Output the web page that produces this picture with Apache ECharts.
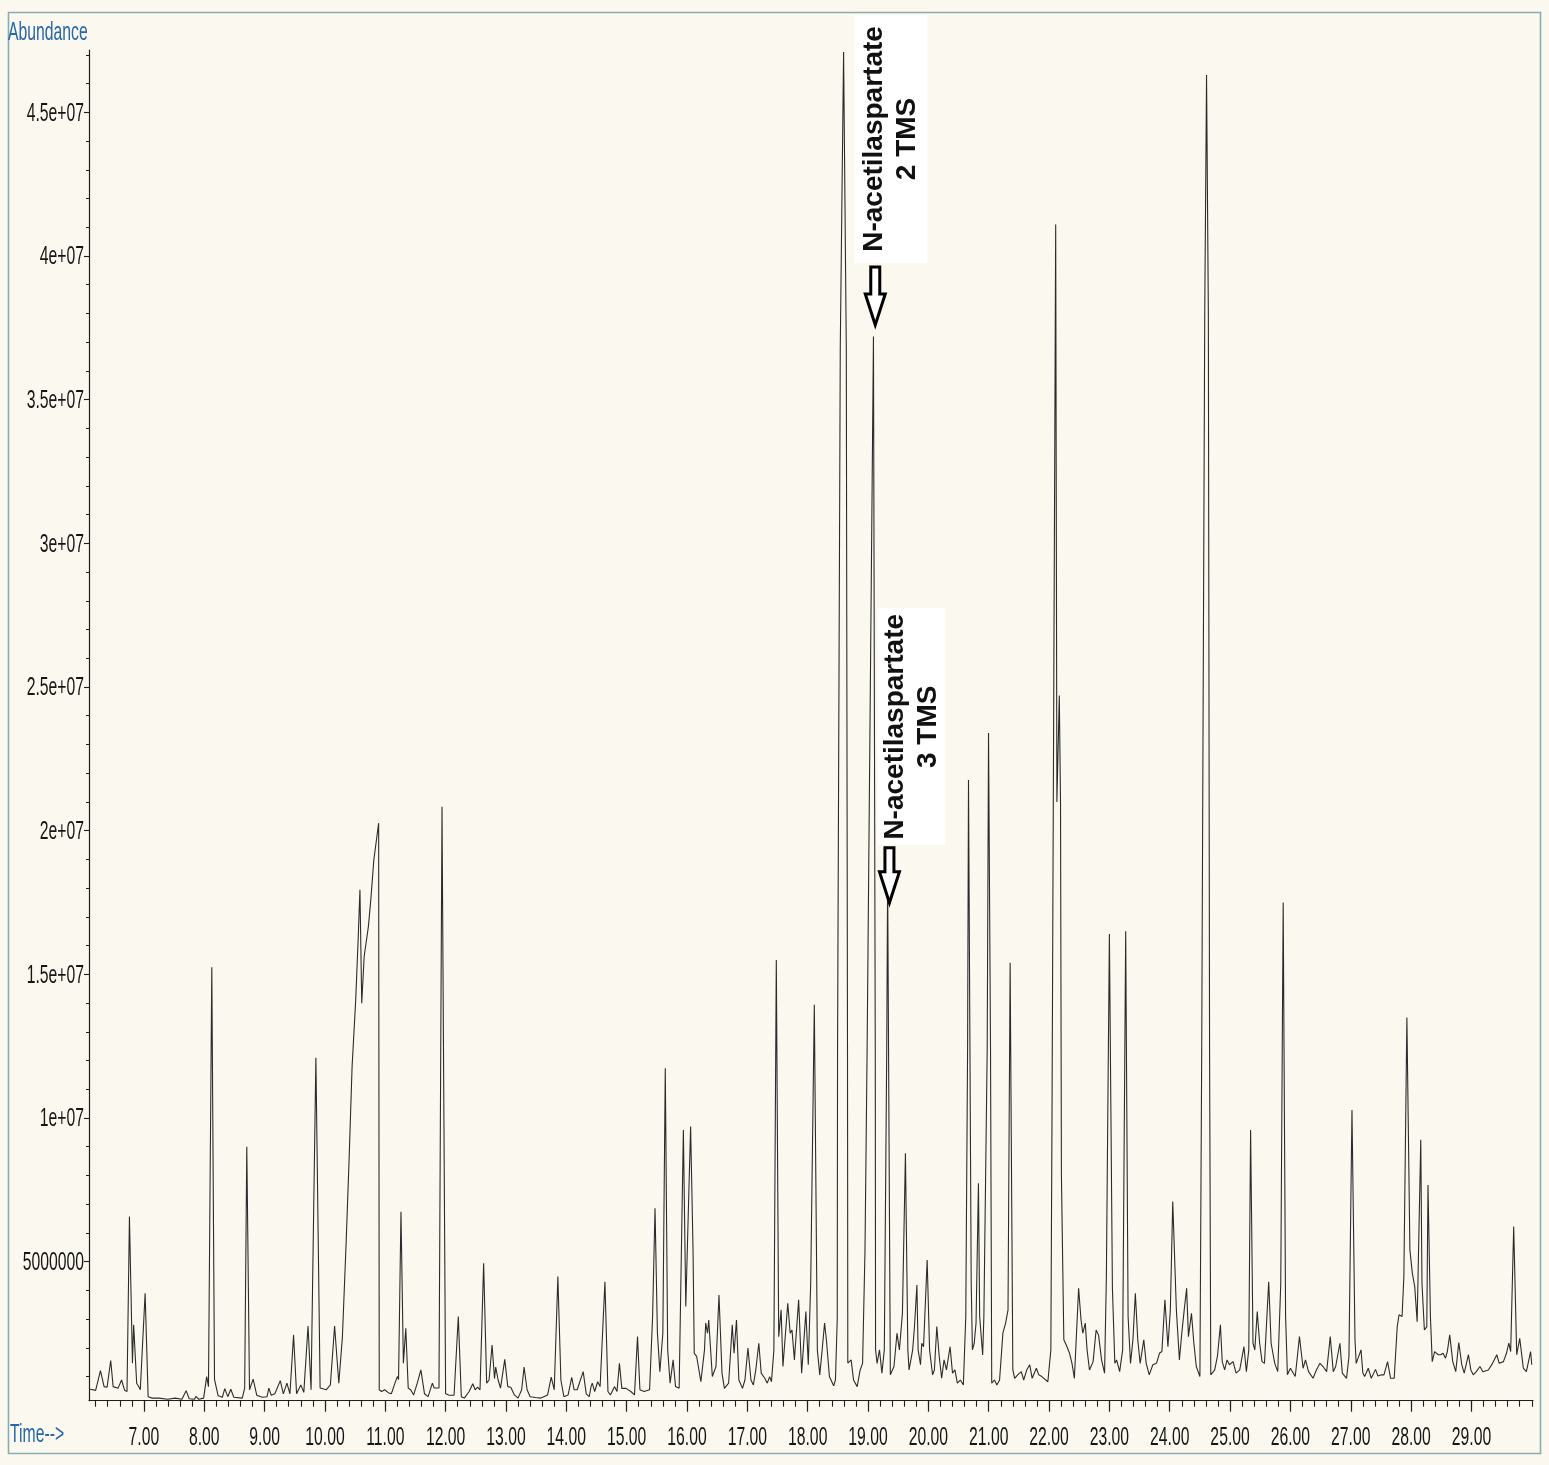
<!DOCTYPE html>
<html>
<head>
<meta charset="utf-8">
<script src="https://cdn.jsdelivr.net/npm/echarts@6/dist/echarts.min.js"></script>
<style>
html,body{margin:0;padding:0;background:#fbf9ef;}
#chart{width:1549px;height:1465px;}
</style>
</head>
<body>
<div id="chart"></div>
<script>
// ---- DATA: total ion chromatogram, [retention time (min), abundance (millions)] ----
const trace_06_10 = [[6.11,0.56],[6.20,0.52],[6.28,1.21],[6.34,0.65],[6.39,0.63],[6.45,1.56],[6.49,0.65],[6.57,0.59],[6.63,0.88],[6.68,0.52],[6.72,0.48],[6.76,6.57],[6.81,1.46],[6.83,2.80],[6.88,0.77],[6.92,0.63],[6.94,0.54],[7.02,3.90],[7.07,0.30],[7.14,0.25],[7.25,0.25],[7.39,0.21],[7.52,0.25],[7.55,0.29],[7.63,0.21],[7.70,0.51],[7.75,0.23],[7.84,0.21],[7.86,0.31],[7.91,0.21],[7.99,0.25],[8.04,1.00],[8.07,0.65],[8.125,15.25],[8.17,0.90],[8.23,0.33],[8.30,0.28],[8.34,0.58],[8.39,0.30],[8.44,0.56],[8.49,0.28],[8.63,0.25],[8.67,0.60],[8.705,9.00],[8.75,0.54],[8.81,0.91],[8.87,0.35],[8.96,0.28],[9.04,0.30],[9.07,0.60],[9.11,0.35],[9.17,0.40],[9.26,0.86],[9.31,0.40],[9.37,0.77],[9.42,0.40],[9.48,2.45],[9.53,0.40],[9.60,0.71],[9.65,0.45],[9.72,2.76],[9.77,0.54],[9.85,12.10],[9.92,0.60],[10.02,0.54],[10.09,0.71],[10.16,2.76],[10.23,0.77]];
const trace_10_14 = [[10.29,2.40],[10.35,5.60],[10.40,8.54],[10.45,11.79],[10.51,14.11],[10.55,16.20],[10.58,17.94],[10.61,13.99],[10.65,15.62],[10.72,16.66],[10.76,17.59],[10.81,18.98],[10.89,20.26],[10.90,0.54],[10.94,0.48],[10.99,0.54],[11.05,0.44],[11.10,0.40],[11.16,0.77],[11.20,1.00],[11.22,0.90],[11.26,6.74],[11.30,1.46],[11.34,2.68],[11.38,0.60],[11.42,0.54],[11.47,0.36],[11.53,0.77],[11.59,1.23],[11.65,0.40],[11.71,0.30],[11.78,0.77],[11.81,0.60],[11.84,0.65],[11.89,0.60],[11.94,20.83],[12.00,0.40],[12.06,0.35],[12.14,0.35],[12.21,3.09],[12.26,0.30],[12.31,0.25],[12.39,0.48],[12.45,0.75],[12.49,0.54],[12.53,0.63],[12.57,0.54],[12.63,4.94],[12.68,0.77],[12.72,0.88],[12.77,2.10],[12.81,0.93],[12.83,1.33],[12.87,0.88],[12.91,0.60],[12.98,1.60],[13.03,0.65],[13.08,0.63],[13.14,0.36],[13.20,0.25],[13.26,0.54],[13.30,1.33],[13.35,0.54],[13.40,0.30],[13.49,0.27],[13.58,0.25],[13.69,0.36],[13.75,0.98],[13.80,0.54],[13.86,4.48],[13.91,0.88],[13.96,0.30],[14.03,0.36],[14.09,0.97],[14.13,0.54],[14.18,0.54],[14.28,1.17],[14.33,0.40],[14.38,0.30],[14.41,0.65]];
const trace_14_18 = [[14.43,0.77],[14.47,0.48],[14.52,0.82],[14.56,0.65],[14.64,4.30],[14.69,0.48],[14.73,0.36],[14.80,0.65],[14.84,0.48],[14.88,1.46],[14.92,0.59],[14.99,0.59],[15.07,0.48],[15.13,0.36],[15.18,2.39],[15.22,0.54],[15.29,0.48],[15.38,0.54],[15.43,3.09],[15.47,6.86],[15.51,2.51],[15.55,1.17],[15.60,2.51],[15.64,11.73],[15.68,1.93],[15.72,0.77],[15.77,1.58],[15.81,0.65],[15.87,0.59],[15.94,9.58],[15.98,3.44],[16.02,6.57],[16.06,9.70],[16.10,5.41],[16.12,1.81],[16.16,1.70],[16.23,0.82],[16.29,1.93],[16.31,2.86],[16.34,2.51],[16.36,2.97],[16.42,1.00],[16.48,1.35],[16.53,3.84],[16.58,1.12],[16.62,0.59],[16.69,0.77],[16.75,2.80],[16.78,1.81],[16.82,2.97],[16.86,0.88],[16.92,0.59],[16.96,0.88],[17.01,1.99],[17.06,0.88],[17.10,0.71],[17.14,1.23],[17.19,2.16],[17.23,1.12],[17.29,0.94],[17.33,0.77],[17.37,1.00],[17.40,0.82],[17.44,1.93],[17.48,15.50],[17.52,2.39],[17.56,3.32],[17.59,1.35],[17.61,1.29],[17.67,3.55],[17.71,2.51],[17.74,2.62],[17.78,1.58],[17.85,3.67],[17.90,1.12],[17.93,1.17],[17.97,3.26],[18.01,1.41],[18.05,4.25],[18.11,13.94],[18.16,1.93],[18.20,1.06],[18.24,1.93],[18.28,2.86],[18.31,2.28],[18.36,1.00],[18.43,0.68],[18.46,0.88]];
const trace_18_22 = [[18.49,3.00],[18.495,12.40],[18.54,36.80],[18.595,47.10],[18.64,36.80],[18.66,12.40],[18.665,1.47],[18.72,1.58],[18.76,0.88],[18.82,0.65],[18.87,1.23],[18.91,1.46],[18.95,5.41],[18.985,12.40],[19.09,37.20],[19.12,12.40],[19.125,1.93],[19.15,1.46],[19.19,1.93],[19.23,1.12],[19.27,1.93],[19.31,12.40],[19.325,18.35],[19.34,12.40],[19.37,1.06],[19.43,1.35],[19.48,2.51],[19.52,1.93],[19.57,3.20],[19.62,8.77],[19.66,1.93],[19.68,1.23],[19.74,1.93],[19.77,2.74],[19.81,4.19],[19.83,1.93],[19.87,1.41],[19.89,2.16],[19.92,2.04],[19.98,5.06],[20.02,1.93],[20.07,1.06],[20.10,1.23],[20.14,2.74],[20.18,1.70],[20.22,0.94],[20.26,1.58],[20.30,1.23],[20.36,2.04],[20.40,1.12],[20.44,1.23],[20.48,0.77],[20.53,0.88],[20.58,0.71],[20.62,3.09],[20.65,12.40],[20.665,21.76],[20.71,4.25],[20.73,1.93],[20.76,2.16],[20.79,2.86],[20.83,7.73],[20.85,3.09],[20.90,1.75],[20.92,3.09],[20.975,12.40],[20.997,23.40],[21.03,12.40],[21.05,0.77],[21.095,0.88],[21.135,0.71],[21.18,0.88],[21.235,2.51],[21.28,2.86],[21.32,3.32],[21.355,15.40],[21.40,1.23],[21.43,0.94],[21.48,1.06],[21.54,1.17],[21.58,0.88],[21.63,1.23],[21.68,1.41],[21.72,0.94],[21.79,1.29],[21.83,1.06],[21.88,1.00],[21.98,0.82]];
const trace_22_26 = [[22.03,1.93],[22.05,10.60],[22.11,41.10],[22.13,21.00],[22.17,24.70],[22.19,21.00],[22.205,8.00],[22.245,2.28],[22.285,2.10],[22.34,1.81],[22.38,1.46],[22.42,0.94],[22.49,4.07],[22.53,2.97],[22.56,2.51],[22.60,2.86],[22.63,1.93],[22.67,1.23],[22.73,1.52],[22.78,2.62],[22.82,2.45],[22.87,1.58],[22.92,1.12],[22.95,4.48],[23.00,16.40],[23.05,4.07],[23.09,1.46],[23.12,1.58],[23.17,1.17],[23.22,1.93],[23.27,16.50],[23.31,3.09],[23.35,1.46],[23.39,2.28],[23.43,3.90],[23.47,2.28],[23.51,1.46],[23.57,2.28],[23.61,1.46],[23.66,1.06],[23.72,1.41],[23.78,1.46],[23.83,1.81],[23.87,1.87],[23.92,3.67],[23.97,2.04],[24.01,3.32],[24.05,7.09],[24.11,3.32],[24.16,1.58],[24.20,2.51],[24.24,3.32],[24.28,4.07],[24.31,2.39],[24.36,3.20],[24.40,2.16],[24.44,1.35],[24.50,1.00],[24.53,12.40],[24.58,38.00],[24.61,46.30],[24.64,38.00],[24.66,12.40],[24.68,1.06],[24.745,1.23],[24.79,1.70],[24.84,2.80],[24.87,1.52],[24.91,1.23],[24.95,1.58],[24.99,1.41],[25.05,1.52],[25.10,1.12],[25.16,1.23],[25.23,2.04],[25.27,1.17],[25.31,1.93],[25.34,9.58],[25.38,2.16],[25.41,1.93],[25.45,3.26],[25.49,2.16],[25.53,1.52],[25.57,1.46],[25.64,4.30],[25.68,2.16],[25.74,1.46],[25.79,1.17],[25.84,4.25],[25.88,17.50],[25.92,3.09],[25.95,1.06],[26.00,1.29],[26.03,1.23],[26.08,1.00],[26.15,2.39],[26.21,1.29],[26.25,1.58],[26.30,1.17],[26.375,0.94],[26.43,1.23],[26.49,1.46],[26.54,1.35]];
const trace_26_30 = [[26.60,1.17],[26.66,2.39],[26.71,1.17],[26.75,1.35],[26.82,2.16],[26.86,1.12],[26.93,0.94],[26.97,1.70],[27.02,10.28],[27.07,2.28],[27.09,1.46],[27.17,1.93],[27.20,1.12],[27.23,1.00],[27.29,1.29],[27.34,0.94],[27.41,1.25],[27.45,1.02],[27.51,1.06],[27.55,1.06],[27.61,1.52],[27.66,0.94],[27.72,0.94],[27.77,2.74],[27.80,3.15],[27.85,3.09],[27.88,4.48],[27.93,13.50],[27.98,5.41],[28.02,4.60],[28.06,4.13],[28.10,2.91],[28.16,9.24],[28.18,4.25],[28.22,2.62],[28.26,2.74],[28.28,7.67],[28.32,3.09],[28.35,1.52],[28.39,1.87],[28.45,1.76],[28.49,1.76],[28.53,1.81],[28.57,1.64],[28.60,1.87],[28.64,2.45],[28.69,1.52],[28.74,1.17],[28.79,2.18],[28.84,1.41],[28.88,1.12],[28.95,1.76],[28.99,1.23],[29.03,1.06],[29.08,1.17],[29.14,1.35],[29.19,1.17],[29.28,1.23],[29.35,1.46],[29.42,1.76],[29.46,1.46],[29.53,1.52],[29.58,1.81],[29.62,2.16],[29.65,1.87],[29.70,6.22],[29.75,1.76],[29.80,2.33],[29.86,1.29],[29.91,1.17],[29.94,1.23],[29.98,1.87],[30.00,1.41]];

const xLabelValues = [7,8,9,10,11,12,13,14,15,16,17,18,19,20,21,22,23,24,25,26,27,28,29];
const xTickLabels  = ['7.00','8.00','9.00','10.00','11.00','12.00','13.00','14.00','15.00','16.00','17.00','18.00','19.00','20.00','21.00','22.00','23.00','24.00','25.00','26.00','27.00','28.00','29.00'];
const yLabelValues = [5,10,15,20,25,30,35,40,45];
const yTickLabels  = ['5000000','1e+07','1.5e+07','2e+07','2.5e+07','3e+07','3.5e+07','4e+07','4.5e+07'];

const annotations = [
  {text: 'N-acetilaspartate\n2 TMS', tipTime: 19.12, tipValue: 37.6},
  {text: 'N-acetilaspartate\n3 TMS', tipTime: 19.355, tipValue: 17.49}
];
// layout of each annotation relative to its arrow tip (pixels)
const annotationLayout = [
  {box: [-21, -310, 73, 248], textCenter: [15.5, -186], arrowLen: 58},
  {box: [-12, -295, 68, 237], textCenter: [22, -176], arrowLen: 55}
];

// ---- axes ranges ----
const X_MIN = 6.09, X_MAX = 30.02, Y_MIN = 0.16, Y_MAX = 47.17;
const xMinorTicks = [];
for (let k = 31; k <= 150; k++) xMinorTicks.push(+(k * 0.2).toFixed(1));
const yMinorTicks = [];
for (let k = 1; k <= 47; k++) yMinorTicks.push(k);

const traceData = [].concat(trace_06_10, trace_10_14, trace_14_18, trace_18_22, trace_22_26, trace_26_30);

const FONT = "'Liberation Sans', Arial, sans-serif";
const AXIS_COLOR = '#1e1e1e';
const NARROW = 0.63;   // the original print uses a condensed, tall typeface

const chart = echarts.init(document.getElementById('chart'), null, {renderer: 'canvas'});

const option = {
  backgroundColor: '#fbf9ef',
  animation: false,
  grid: {left: 89, top: 50, right: 16, bottom: 64.3, containLabel: false},
  xAxis: [
    {
      type: 'value', min: X_MIN, max: X_MAX, position: 'bottom',
      axisLine: {show: true, onZero: false, lineStyle: {color: AXIS_COLOR, width: 1.2}},
      axisTick: {show: true, length: 11, customValues: xLabelValues, lineStyle: {color: AXIS_COLOR, width: 1.2}},
      axisLabel: {show: false},
      splitLine: {show: false}
    },
    {
      type: 'value', min: X_MIN, max: X_MAX, position: 'bottom', offset: 0,
      axisLine: {show: false, onZero: false},
      axisTick: {show: true, length: 6, customValues: xMinorTicks, lineStyle: {color: AXIS_COLOR, width: 1.1}},
      axisLabel: {show: false},
      splitLine: {show: false}
    }
  ],
  yAxis: [
    {
      type: 'value', min: Y_MIN, max: Y_MAX, position: 'left',
      axisLine: {show: true, onZero: false, lineStyle: {color: AXIS_COLOR, width: 1.2}},
      axisTick: {show: true, length: 5, customValues: yLabelValues, lineStyle: {color: AXIS_COLOR, width: 1.1}},
      axisLabel: {show: false},
      splitLine: {show: false}
    },
    {
      type: 'value', min: Y_MIN, max: Y_MAX, position: 'left', offset: 0,
      axisLine: {show: false, onZero: false},
      axisTick: {show: true, length: 3, customValues: yMinorTicks, lineStyle: {color: AXIS_COLOR, width: 1}},
      axisLabel: {show: false},
      splitLine: {show: false}
    }
  ],
  series: [{
    type: 'line',
    xAxisIndex: 0, yAxisIndex: 0,
    data: traceData,
    symbol: 'none',
    smooth: false,
    clip: true,
    lineStyle: {color: '#2b2b2b', width: 1.1},
    z: 3
  }],
  graphic: []
};

chart.setOption(option);

// ---- decorations: frame, tick labels, axis captions, annotations ----
const g = [];
g.push({type: 'rect', shape: {x: 8.5, y: 12.5, width: 1532, height: 1441},
        style: {fill: 'none', stroke: '#86aeb0', lineWidth: 1.6}, silent: true, z: 1});

function narrowText(txt, x, y, align, vAlign, color, size) {
  return {type: 'text', x: x, y: y, scaleX: NARROW, scaleY: 1, z: 5,
          style: {text: txt, font: size + 'px ' + FONT, fill: color,
                  align: align, verticalAlign: vAlign, textAlign: align, textVerticalAlign: vAlign}};
}

xLabelValues.forEach(function (v, i) {
  const p = chart.convertToPixel({xAxisIndex: 0}, v);
  g.push(narrowText(xTickLabels[i], p, 1438, 'center', 'middle', '#151515', 25));
});
yLabelValues.forEach(function (v, i) {
  const p = chart.convertToPixel({yAxisIndex: 0}, v);
  g.push(narrowText(yTickLabels[i], 84, p + 1.5, 'right', 'middle', '#151515', 25));
});
g.push(narrowText('Abundance', 8, 33, 'left', 'middle', '#2566ad', 25));
g.push(narrowText('Time-->', 10, 1435, 'left', 'middle', '#2566ad', 25));

annotations.forEach(function (a, i) {
  const L = annotationLayout[i];
  const tip = chart.convertToPixel({xAxisIndex: 0, yAxisIndex: 0}, [a.tipTime, a.tipValue]);
  const tx = tip[0], ty = tip[1];
  g.push({type: 'rect', shape: {x: tx + L.box[0], y: ty + L.box[1], width: L.box[2], height: L.box[3]},
          style: {fill: '#ffffff', stroke: 'none'}, z: 10});
  g.push({type: 'text', x: tx + L.textCenter[0], y: ty + L.textCenter[1], rotation: Math.PI / 2,
          style: {text: a.text, font: "bold 28px 'Liberation Sans', Arial, sans-serif", fill: '#111111',
                  align: 'center', verticalAlign: 'middle', textAlign: 'center', textVerticalAlign: 'middle',
                  lineHeight: 33}, z: 11});
  const h = L.arrowLen, head = 31;
  g.push({type: 'polygon', shape: {points: [
            [tx - 4.5, ty - h], [tx + 4.5, ty - h], [tx + 4.5, ty - head], [tx + 10, ty - head],
            [tx, ty], [tx - 10, ty - head], [tx - 4.5, ty - head]]},
          style: {fill: '#ffffff', stroke: '#000000', lineWidth: 3, lineJoin: 'miter'}, z: 12});
});

chart.setOption({graphic: g});
</script>
</body>
</html>
